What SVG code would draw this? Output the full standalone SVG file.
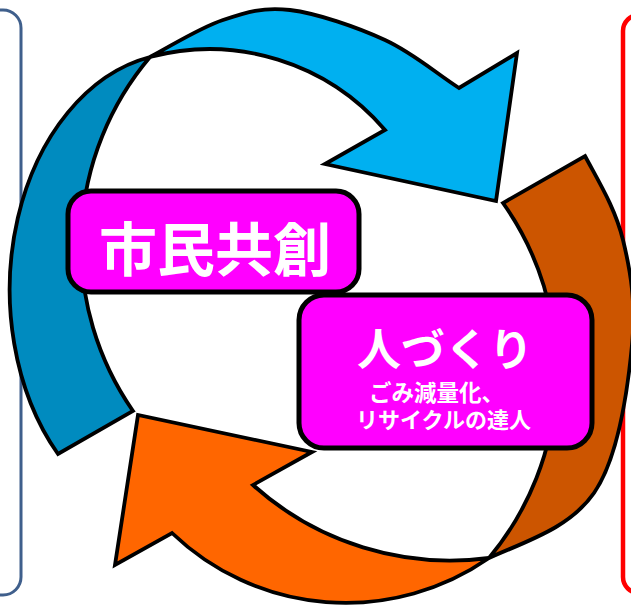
<svg xmlns="http://www.w3.org/2000/svg" width="631" height="612" viewBox="0 0 631 612">
<style>
.arrow{stroke:#000;stroke-width:3.8;stroke-linejoin:miter}
.box{fill:#ff00ff;stroke:#000;stroke-width:5}
.t{fill:#fff;font-family:"Noto Sans CJK JP","Noto Sans",sans-serif}
</style>
<rect x="0" y="0" width="631" height="612" fill="#fff"/>
<g id="frame-left"><rect x="-30" y="10" width="51" height="585" rx="18" fill="none" stroke="#3f5f8c" stroke-width="3"/></g>
<g id="frame-right"><rect x="623" y="15" width="60" height="578" rx="16" fill="none" stroke="#ff0000" stroke-width="4.5"/></g>
<g id="connectors">
<g id="arrow-blue">
<path class="arrow" fill="#008bbf" d="M150,57 A173,237 0 0 0 58,454 L133,411 A291,291 0 0 1 150,57 Z"/>
<path class="arrow" fill="#00b0f0" d="M150,57 C175,43.7 199.7,27.8 223,20 C246.3,12.2 263,6.7 290,10 C317,13.3 356.8,27 385,40 C413.2,53 434.3,72 459,88 L517,53 L496,201 L325,164 L385,130 A231,231 0 0 0 150,57 Z"/>
</g>
<g id="arrow-orange">
<path class="arrow" fill="#cc5500" d="M489,558 C525.7,541.3 569.3,528.5 594,493 C618.7,457.5 628,387.2 632,345 C636,302.8 630.7,271.5 623,240 C615.3,208.5 600,184 585,156 L503,203 A291,291 0 0 1 489,558 Z"/>
<path class="arrow" fill="#ff6600" d="M489,558 A251,251 0 0 1 172,533 L115,565 L138,415 L312,452 L253,485 A295,295 0 0 0 489,558 Z"/>
</g>
</g>
<g id="node-shimin">
<rect class="box" x="68" y="191" width="291" height="101" rx="23"/>
<text class="t" x="215" y="271" font-size="58" font-weight="bold" text-anchor="middle">市民共創</text>
</g>
<g id="node-hitozukuri">
<rect class="box" x="299" y="295" width="293" height="153" rx="25"/>
<text class="t" x="445" y="366" font-size="44" font-weight="bold" text-anchor="middle">人づくり</text>
<text class="t" x="369" y="401" font-size="22.5" font-weight="bold">ごみ減量化、</text>
<text class="t" x="356" y="428" font-size="22" font-weight="bold">リサイクルの達人</text>
</g>
</svg>
